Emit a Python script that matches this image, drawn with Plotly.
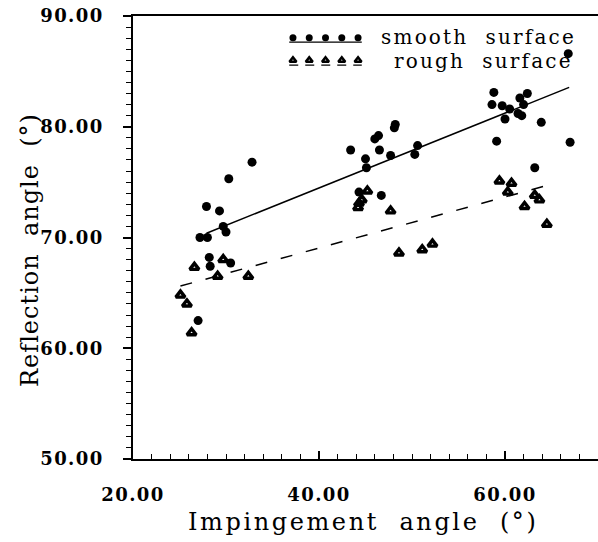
import numpy as np
import plotly.graph_objects as go

# ---- data ----
smooth_x = [32.8, 30.3, 27.9, 29.3, 29.7, 30.0, 27.2, 28.0, 28.2, 28.3, 30.5, 27.0,
            48.2, 48.1, 46.4, 46.0, 43.4, 46.5, 45.0, 47.7, 50.6, 50.3, 45.1, 44.3, 46.7,
            58.8, 62.4, 61.6, 62.0, 58.6, 59.7, 60.5, 60.0, 61.4, 61.8, 63.9, 59.1, 67.0, 63.2, 66.8]
smooth_y = [76.8, 75.3, 72.8, 72.4, 71.0, 70.5, 70.0, 70.0, 68.2, 67.4, 67.7, 62.5,
            80.2, 79.9, 79.2, 78.9, 77.9, 77.9, 77.1, 77.4, 78.3, 77.5, 76.3, 74.1, 73.8,
            83.1, 83.0, 82.6, 82.0, 82.0, 81.9, 81.6, 80.7, 81.2, 81.0, 80.4, 78.7, 78.6, 76.3, 86.6]

rough_x = [26.6, 29.7, 29.1, 32.4, 25.1, 25.8, 26.3,
           45.2, 44.6, 44.3, 44.2, 47.7, 48.6, 51.1, 52.2,
           59.4, 60.7, 60.3, 63.2, 63.7, 62.1, 64.5]
rough_y = [67.3, 68.0, 66.5, 66.5, 64.8, 64.0, 61.4,
           74.2, 73.4, 73.1, 72.7, 72.4, 68.6, 68.9, 69.4,
           75.1, 74.9, 74.1, 73.8, 73.4, 72.8, 71.2]

# linear fits (slope, intercept) and their x extents
smooth_fit = (0.3376, 60.97)
smooth_fit_x = [27.9, 66.9]
rough_fit = (0.2305, 59.83)
rough_fit_x = [25.1, 64.3]

series_names = ["smooth surface", "rough surface"]
x_ticks = [20, 40, 60]
y_ticks = [50, 60, 70, 80, 90]
x_title = "Impingement angle (°)"
y_title = "Reflection angle (°)"

FONT = "DejaVu Serif"
BLACK = "black"


def spaced(text, ls, word_gap=2):
    """Wrap text in a letter-spaced span, widening word gaps."""
    t = text.replace(" ", "&nbsp;" * word_gap)
    return f'<span style="letter-spacing:{ls}px">{t}</span>'


fig = go.Figure()

sfx = np.array(smooth_fit_x)
rfx = np.array(rough_fit_x)
fig.add_trace(go.Scatter(x=sfx, y=smooth_fit[0] * sfx + smooth_fit[1], mode="lines",
                         line=dict(color=BLACK, width=1.5), showlegend=False, hoverinfo="skip"))
fig.add_trace(go.Scatter(x=rfx, y=rough_fit[0] * rfx + rough_fit[1], mode="lines",
                         line=dict(color=BLACK, width=1.5, dash="12px,14px"),
                         showlegend=False, hoverinfo="skip"))

fig.add_trace(go.Scatter(x=smooth_x, y=smooth_y, mode="markers", name=series_names[0],
                         marker=dict(symbol="circle", size=9, color=BLACK), showlegend=False))
fig.add_trace(go.Scatter(x=rough_x, y=rough_y, mode="markers", name=series_names[1],
                         marker=dict(symbol="triangle-up-open", size=8, color=BLACK,
                                     line=dict(width=3.4, color=BLACK)), showlegend=False))

# ---- hand-drawn style legend (on an overlay axis in plot-fraction units) ----
lx = np.linspace(0.344, 0.484, 5)
fig.add_trace(go.Scatter(x=[0.336, 0.492], y=[0.941, 0.941], mode="lines", xaxis="x2", yaxis="y2",
                         line=dict(color=BLACK, width=1.2), showlegend=False, hoverinfo="skip"))
fig.add_trace(go.Scatter(x=lx, y=[0.951] * 5, mode="markers", xaxis="x2", yaxis="y2",
                         marker=dict(symbol="circle", size=7, color=BLACK), showlegend=False,
                         hoverinfo="skip"))
fig.add_trace(go.Scatter(x=[0.336, 0.492], y=[0.889, 0.889], mode="lines", xaxis="x2", yaxis="y2",
                         line=dict(color=BLACK, width=1.2, dash="9px,7px"), showlegend=False,
                         hoverinfo="skip"))
fig.add_trace(go.Scatter(x=lx, y=[0.900] * 5, mode="markers", xaxis="x2", yaxis="y2",
                         marker=dict(symbol="triangle-up-open", size=6, color=BLACK,
                                     line=dict(width=2.6, color=BLACK)), showlegend=False,
                         hoverinfo="skip"))

fig.add_annotation(text=spaced(series_names[0], 2.2), xref="paper", yref="paper",
                   x=0.743, y=0.9535, xanchor="center", yanchor="middle", showarrow=False,
                   font=dict(family=FONT, size=20, color=BLACK))
fig.add_annotation(text=spaced(series_names[1], 2.2), xref="paper", yref="paper",
                   x=0.754, y=0.8995, xanchor="center", yanchor="middle", showarrow=False,
                   font=dict(family=FONT, size=20, color=BLACK))

# axis titles
fig.add_annotation(text=spaced(x_title, 2.6), xref="paper", yref="paper",
                   x=0.4946, y=-0.142, xanchor="center", yanchor="middle", showarrow=False,
                   font=dict(family=FONT, size=24, color=BLACK))
fig.add_annotation(text=spaced(y_title, 1.0), xref="paper", yref="paper", textangle=-90,
                   x=-0.2215, y=0.4718, xanchor="center", yanchor="middle", showarrow=False,
                   font=dict(family=FONT, size=24, color=BLACK))

tickfont = dict(family=FONT, size=18, color=BLACK, weight="bold")
x_ticktext = [spaced(f"{v:.2f}", 1.4) for v in x_ticks]
y_ticktext = [spaced(f"{v:.2f}", 1.4) for v in y_ticks]

fig.update_layout(
    width=598, height=542,
    margin=dict(l=133, r=0, t=16, b=83),
    paper_bgcolor="white", plot_bgcolor="white",
    showlegend=False,
    xaxis=dict(range=[20, 70], tickvals=x_ticks, ticktext=x_ticktext,
               ticks="inside", ticklen=8, tickwidth=1.5, tickcolor=BLACK,
               minor=dict(dtick=2, tick0=20, ticks="inside", ticklen=5, tickwidth=1, tickcolor=BLACK),
               showline=True, linewidth=1.6, linecolor=BLACK, mirror=True,
               showgrid=False, zeroline=False, tickfont=tickfont, ticklabelstandoff=19),
    yaxis=dict(range=[50, 90], tickvals=y_ticks, ticktext=y_ticktext,
               ticks="outside", ticklen=8, tickwidth=1.5, tickcolor=BLACK,
               minor=dict(dtick=1, tick0=50, ticks="outside", ticklen=5, tickwidth=1, tickcolor=BLACK),
               showline=True, linewidth=1.6, linecolor=BLACK, mirror=False,
               showgrid=False, zeroline=False, tickfont=tickfont, ticklabelstandoff=16),
    xaxis2=dict(overlaying="x", range=[0, 1], visible=False, anchor="y2"),
    yaxis2=dict(overlaying="y", range=[0, 1], visible=False, anchor="x2"),
)

fig.write_html("out.html")
